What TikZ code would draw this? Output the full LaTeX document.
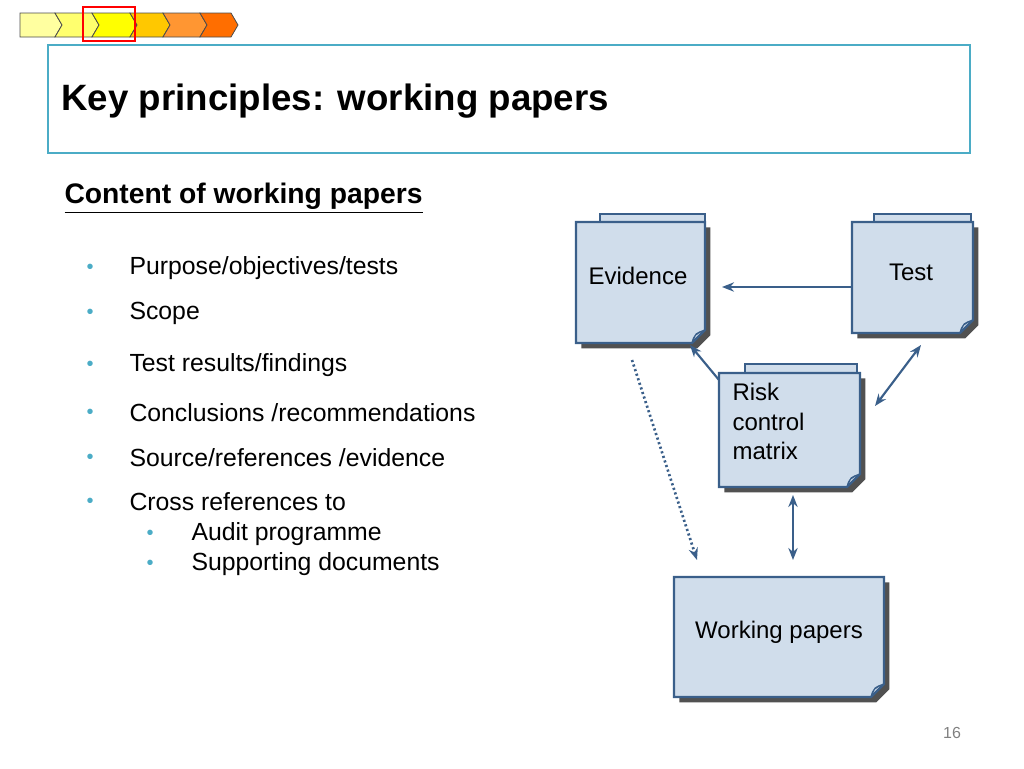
\documentclass[tikz,border=0pt]{standalone}
\usepackage{fontspec}
\setmainfont{Liberation Sans}
\usetikzlibrary{shadows,arrows.meta}
\definecolor{docfill}{RGB}{208,221,235}
\definecolor{docline}{RGB}{58,95,138}
\definecolor{titleline}{RGB}{75,172,198}
\tikzset{every picture/.style={line width=0.75pt},
  doc/.style={draw=docline,line width=1.8pt,fill=docfill,drop shadow={shadow xshift=4pt,shadow yshift=-4pt,opacity=0.85,fill=black!80}},
  sheet/.style={draw=docline,line width=1.4pt,fill=docfill},
  tip/.style={-{Stealth[length=9pt,width=7pt]}},
  link/.style={draw=docline,line width=1.6pt},
  chev/.style={draw=black!70,line width=0.6pt}}

\begin{document}
\begin{tikzpicture}[x=0.75pt,y=0.75pt,yscale=-1,xscale=1]
		\useasboundingbox (0,0) rectangle (1024,768);
		
		%progress chevrons
		\draw [chev,fill={rgb,255:red,255;green,255;blue,160}] (20,13) -- (55,13) -- (62,25) -- (55,37) -- (20,37) -- cycle ;
		\draw [chev,fill={rgb,255:red,255;green,255;blue,110}] (55,13) -- (92,13) -- (99,25) -- (92,37) -- (55,37) -- (62,25) -- cycle ;
		\draw [chev,fill={rgb,255:red,255;green,255;blue,0}] (92,13) -- (130,13) -- (137,25) -- (130,37) -- (92,37) -- (99,25) -- cycle ;
		\draw [chev,fill={rgb,255:red,255;green,200;blue,0}] (130,13) -- (163,13) -- (170,25) -- (163,37) -- (130,37) -- (137,25) -- cycle ;
		\draw [chev,fill={rgb,255:red,255;green,150;blue,50}] (163,13) -- (200,13) -- (207,25) -- (200,37) -- (163,37) -- (170,25) -- cycle ;
		\draw [chev,fill={rgb,255:red,255;green,110;blue,0}] (200,13) -- (231,13) -- (238,25) -- (231,37) -- (200,37) -- (207,25) -- cycle ;
		\draw [color=red,line width=2pt] (83,7) rectangle (135,41) ;
		
		%title
		\draw [color=titleline,line width=1.8pt] (48,45) rectangle (970,153) ;
		\draw (60,101) node [anchor=west][inner sep=0.75pt] (title) {\fontsize{27.5}{30}\selectfont\bfseries Key principles: working papers};
		\draw (63,198) node [anchor=west][inner sep=0.75pt] (sub) {\fontsize{21.2}{24}\selectfont\bfseries\underline{Content of working papers}};
		
		%bullets
		\foreach \y/\t [count=\i] in {268/{Purpose/objectives/tests},313/Scope,365/{Test results/findings},413/{Conclusions /recommendations},458/{Source/references /evidence},502/Cross references to}{
			\node [anchor=west,inner sep=0.75pt,text=titleline] (b\i) at (85,\y+1) {\fontsize{15}{15}\selectfont •};
			\node [anchor=west,inner sep=0.75pt] (t\i) at (128,\y) {\fontsize{18.6}{22}\selectfont \t};
		}
		\foreach \y/\t [count=\i] in {534/Audit programme,564/Supporting documents}{
			\node [anchor=west,inner sep=0.75pt,text=titleline] (sb\i) at (145,\y+1) {\fontsize{15}{15}\selectfont •};
			\node [anchor=west,inner sep=0.75pt] (st\i) at (190,\y) {\fontsize{18.6}{22}\selectfont \t};
		}
		
		%documents
		\draw [sheet] (600,222) -- (600,214) -- (705,214) -- (705,222) ;
		\draw [sheet] (874,222) -- (874,214) -- (971,214) -- (971,222) ;
		\draw [sheet] (745,373) -- (745,364) -- (857,364) -- (857,373) ;
		\draw [doc] (576,222) -- (705,222) -- (705,330) -- (692,343) -- (576,343) -- cycle ;
		\draw [doc] (852,222) -- (973,222) -- (973,320) -- (960,333) -- (852,333) -- cycle ;
		\draw [doc] (719,373) -- (860,373) -- (860,474) -- (847,487) -- (719,487) -- cycle ;
		\draw [doc] (674,577) -- (884,577) -- (884,684) -- (871,697) -- (674,697) -- cycle ;
		\foreach \cx/\cy in {705/330,973/320,860/474,884/684}{
			\draw [draw=docline,fill=white!60!docline,line width=0.8pt] (\cx-13,\cy+13) .. controls (\cx-11,\cy+5) .. (\cx,\cy) .. controls (\cx-6,\cy+2) .. (\cx-9,\cy+4) -- cycle ;
		}
		
		\node [anchor=center,inner sep=0.75pt] (evidence) at (638,276) {\fontsize{18}{21}\selectfont Evidence};
		\node [anchor=center,inner sep=0.75pt] (test) at (911,272) {\fontsize{18}{21}\selectfont Test};
		\node [anchor=north west,inner sep=0.75pt,align=left,font=\fontsize{18}{22}\selectfont] (rcm) at (731,382) {Risk\\control\\matrix};
		\node [anchor=center,inner sep=0.75pt] (wp) at (779,632) {\fontsize{18}{21}\selectfont Working papers};
		\node [anchor=center,inner sep=0.75pt,text=gray] (page) at (952,733) {\fontsize{12}{14}\selectfont 16};
		
		%connectors
		\coordinate (a1) at (852,287); \coordinate (a2) at (722,287);
		\coordinate (b1) at (719,380); \coordinate (b2) at (690,345);
		\coordinate (c1) at (921,345); \coordinate (c2) at (875,406);
		\coordinate (d1) at (793,495); \coordinate (d2) at (793,560);
		\coordinate (e1) at (632,360); \coordinate (e2) at (697,560);
		\draw [link,tip] (a1) -- (a2) ;
		\draw [link,tip] (b1) -- (b2) ;
		\draw [link,{Stealth[length=9pt,width=7pt]}-{Stealth[length=9pt,width=7pt]}] (c1) -- (c2) ;
		\draw [link,{Stealth[length=9pt,width=7pt]}-{Stealth[length=9pt,width=7pt]}] (d1) -- (d2) ;
		\draw [link,tip,dotted,line width=2pt] (e1) -- (e2) ;
		
	\end{tikzpicture}
\end{document}
